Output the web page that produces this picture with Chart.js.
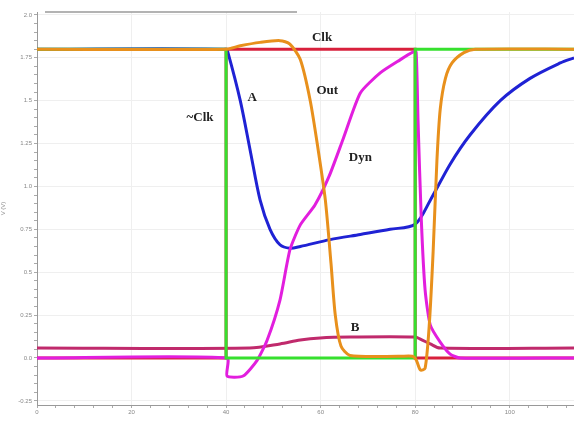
<!DOCTYPE html>
<html>
<head>
<meta charset="utf-8">
<script src="https://cdn.jsdelivr.net/npm/chart.js@4.4.0/dist/chart.umd.min.js"></script>
<style>
  html, body { margin: 0; padding: 0; background: #fff; }
  #wrap { width: 574px; height: 421px; }
</style>
</head>
<body>
<div id="wrap"><canvas id="waves"></canvas></div>
<script>
// time axis (ps) and voltage ticks
var xTicks = [0, 20, 40, 60, 80, 100];
var yTicks = [2.0, 1.75, 1.5, 1.25, 1.0, 0.75, 0.5, 0.25, 0.0, -0.25];
var yTickLabels = ['2.0', '1.75', '1.5', '1.25', '1.0', '0.75', '0.5', '0.25', '0.0', '-0.25'];

// Clk
var clkT = [0, 40, 40, 80, 80, 113.6];
var clkV = [0, 0, 1.8, 1.8, 0, 0];

// ~Clk
var nclkT = [0, 40, 40, 80, 80, 113.6];
var nclkV = [1.8, 1.8, 0, 0, 1.8, 1.8];

// Out
var outT = [0, 40, 43, 47.2, 51.4, 53.5, 55.7, 57.8, 59.5, 61, 62.2, 63.1, 64.3, 66.2, 76.8, 79.4, 80.2, 81.1, 82.1, 83.0, 83.8, 84.6, 85.3, 86.4, 87.8, 90.3, 92.7, 113.6];
var outV = [1.8, 1.8, 1.82, 1.84, 1.85, 1.83, 1.74, 1.50, 1.21, 0.92, 0.55, 0.25, 0.07, 0.015, 0.01, 0.01, -0.01, -0.07, -0.06, 0.20, 0.62, 1.15, 1.45, 1.63, 1.72, 1.78, 1.8, 1.8];

// Dyn
var dynT = [0, 40.2, 40.2, 43.6, 46.6, 48.7, 51.4, 53.5, 55.7, 58.8, 61.8, 64.8, 68.4, 72.6, 76.8, 79.6, 80.2, 80.6, 81.3, 82.1, 83.2, 85.3, 87.4, 89.5, 113.6];
var dynV = [0, 0, -0.105, -0.105, -0.012, 0.105, 0.338, 0.63, 0.776, 0.892, 1.06, 1.28, 1.545, 1.662, 1.738, 1.784, 1.784, 1.388, 0.805, 0.397, 0.192, 0.093, 0.023, 0, 0];

// A
var aT = [0, 40, 40.4, 43, 45.1, 47.2, 49.3, 51.4, 53.5, 55.7, 62, 68.4, 74.7, 80, 83.2, 87.4, 91.6, 98, 104.3, 110.7, 113.6];
var aV = [1.8, 1.8, 1.78, 1.50, 1.21, 0.92, 0.75, 0.66, 0.64, 0.65, 0.69, 0.72, 0.75, 0.78, 0.92, 1.13, 1.30, 1.50, 1.63, 1.72, 1.75];

// B
var bT = [0, 45, 51.4, 55.7, 59.9, 66.2, 80, 81.1, 83.2, 85.3, 113.6];
var bV = [0.058, 0.058, 0.082, 0.105, 0.117, 0.122, 0.122, 0.11, 0.082, 0.058, 0.058];

// signal names written next to the traces
var labelText = ['Clk', 'A', 'Out', '~Clk', 'Dyn', 'B'];
var labelT = [60.3, 45.5, 61.4, 34.5, 68.4, 67.3];
var labelV = [1.866, 1.52, 1.56, 1.40, 1.17, 0.175];

function pts(ts, vs) {
    return ts.map(function (t, i) { return { x: t, y: vs[i] }; });
}

function near(v, list) {
    return list.some(function (m) { return Math.abs(m - v) < 1e-6; });
}

var labelsPlugin = {
    id: 'traceLabels',
    afterDatasetsDraw: function (chart) {
        var ctx = chart.ctx;
        var xs = chart.scales.x, ys = chart.scales.y;
        ctx.save();
        ctx.font = 'bold 13px "Liberation Serif", "DejaVu Serif", serif';
        ctx.fillStyle = '#222';
        ctx.textAlign = 'center';
        ctx.textBaseline = 'middle';
        labelText.forEach(function (txt, i) {
            ctx.fillText(txt, xs.getPixelForValue(labelT[i]), ys.getPixelForValue(labelV[i]));
        });
        // thin grey strip along the top
        ctx.strokeStyle = '#9a9a9a';
        ctx.lineWidth = 1.5;
        ctx.beginPath();
        ctx.moveTo(45, 12);
        ctx.lineTo(297, 12);
        ctx.stroke();
        ctx.restore();
    }
};

// first dataset ends up on top
var ctx = document.getElementById('waves').getContext('2d');
var chart = new Chart(ctx, {
    type: 'line',
    data: {
        datasets: [{
            label: 'Out',
            data: pts(outT, outV),
            borderColor: '#e8901c',
            borderWidth: 3,
            tension: 0.25
        }, {
            label: '~Clk',
            data: pts(nclkT, nclkV),
            borderColor: '#36e02e',
            borderWidth: 3,
            tension: 0
        }, {
            label: 'Dyn',
            data: pts(dynT, dynV),
            borderColor: '#e21ede',
            borderWidth: 3,
            tension: 0.2
        }, {
            label: 'Clk',
            data: pts(clkT, clkV),
            borderColor: '#d8203c',
            borderWidth: 3,
            tension: 0
        }, {
            label: 'A',
            data: pts(aT, aV),
            borderColor: '#1f22d4',
            borderWidth: 3,
            tension: 0.3
        }, {
            label: 'B',
            data: pts(bT, bV),
            borderColor: '#c02a6c',
            borderWidth: 3,
            tension: 0.3
        }]
    },
    options: {
        responsive: true,
        maintainAspectRatio: false,
        animation: false,
        layout: { padding: { top: 12, right: 0, left: 0, bottom: 0 } },
        elements: { point: { radius: 0 } },
        plugins: {
            legend: { display: false },
            tooltip: { enabled: false }
        },
        scales: {
            x: {
                type: 'linear',
                min: 0,
                max: 113.6,
                afterBuildTicks: function (axis) {
                    var t = [];
                    for (var v = 0; v <= 112; v += 4) t.push({ value: v });
                    axis.ticks = t;
                },
                afterFit: function (axis) { axis.height = 16; },
                border: { color: '#999' },
                grid: {
                    color: function (c) { return near(c.tick.value, xTicks) ? '#efefef' : 'rgba(0,0,0,0)'; },
                    tickColor: '#aaa',
                    tickLength: 3
                },
                ticks: {
                    autoSkip: false,
                    maxRotation: 0,
                    padding: 1,
                    color: '#888',
                    font: { size: 6 },
                    callback: function (v) { return near(v, xTicks) ? String(v) : ''; }
                }
            },
            y: {
                min: -0.274,
                max: 2.017,
                title: { display: true, text: 'V (V)', color: '#888', font: { size: 6 }, padding: 0 },
                afterBuildTicks: function (axis) {
                    var t = [];
                    for (var k = -5; k <= 40; k++) t.push({ value: k * 0.05 });
                    axis.ticks = t;
                },
                afterFit: function (axis) { axis.width = 37; },
                border: { color: '#999' },
                grid: {
                    color: function (c) { return near(c.tick.value, yTicks) ? '#efefef' : 'rgba(0,0,0,0)'; },
                    tickColor: '#aaa',
                    tickLength: 3
                },
                ticks: {
                    autoSkip: false,
                    padding: 2,
                    color: '#888',
                    font: { size: 6 },
                    callback: function (v) {
                        for (var i = 0; i < yTicks.length; i++) {
                            if (Math.abs(yTicks[i] - v) < 1e-6) return yTickLabels[i];
                        }
                        return '';
                    }
                }
            }
        }
    },
    plugins: [labelsPlugin]
});
</script>
</body>
</html>
